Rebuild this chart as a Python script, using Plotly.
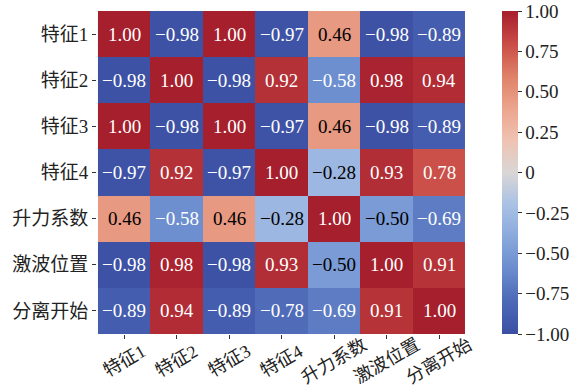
import plotly.graph_objects as go

# Feature names (rows and columns of the correlation matrix)
labels = ["特征1", "特征2", "特征3", "特征4", "升力系数", "激波位置", "分离开始"]

# Pairwise correlation coefficients, one list per row
row_f1 = [1.00, -0.98, 1.00, -0.97, 0.46, -0.98, -0.89]
row_f2 = [-0.98, 1.00, -0.98, 0.92, -0.58, 0.98, 0.94]
row_f3 = [1.00, -0.98, 1.00, -0.97, 0.46, -0.98, -0.89]
row_f4 = [-0.97, 0.92, -0.97, 1.00, -0.28, 0.93, 0.78]
row_lift = [0.46, -0.58, 0.46, -0.28, 1.00, -0.50, -0.69]
row_shock = [-0.98, 0.98, -0.98, 0.93, -0.50, 1.00, 0.91]
row_sep = [-0.89, 0.94, -0.89, -0.78, -0.69, 0.91, 1.00]
corr = [row_f1, row_f2, row_f3, row_f4, row_lift, row_shock, row_sep]

# Colorbar ticks
cbar_vals = [1.00, 0.75, 0.50, 0.25, 0, -0.25, -0.50, -0.75, -1.00]
cbar_text = ["1.00", "0.75", "0.50", "0.25", "0", "−0.25", "−0.50", "−0.75", "−1.00"]

# Muted diverging blue-grey-red scale
diverging = [
    [0.0, "#3b4fa3"], [0.1, "#4d68b7"], [0.2, "#6a8ccd"], [0.3, "#89a9dc"],
    [0.4, "#a9c1e4"], [0.5, "#d9d6d6"], [0.6, "#efc2b2"], [0.7, "#eca48c"],
    [0.8, "#df8068"], [0.9, "#c94b46"], [1.0, "#a61f2d"],
]

FONT = "Liberation Serif, Noto Sans CJK SC, serif"


def fmt(v):
    s = f"{abs(v):.2f}"
    return ("−" + s) if v < 0 else s


def text_color(v):
    return "black" if -0.55 < v < 0.6 else "white"


fig = go.Figure(
    go.Heatmap(
        z=corr,
        x=labels,
        y=labels,
        colorscale=diverging,
        zmin=-1,
        zmax=1,
        xgap=0,
        ygap=0,
        hoverinfo="skip",
        colorbar=dict(
            x=1.063,
            xanchor="left",
            xpad=0,
            y=0.5,
            yanchor="middle",
            len=1.0,
            ypad=0,
            thickness=16,
            outlinewidth=0,
            tickvals=cbar_vals,
            ticktext=cbar_text,
            ticks="outside",
            ticklen=4,
            tickcolor="#333",
            tickfont=dict(family=FONT, size=19, color="#222"),
        ),
    )
)

annotations = []
# cell values
for i, row in enumerate(corr):
    for j, v in enumerate(row):
        annotations.append(
            dict(
                x=labels[j],
                y=labels[i],
                text=fmt(v),
                showarrow=False,
                font=dict(family=FONT, size=19, color=text_color(v)),
            )
        )
# rotated column labels, centred under each tick
for name in labels:
    annotations.append(
        dict(
            x=name,
            xref="x",
            y=0,
            yref="paper",
            yanchor="middle",
            yshift=-27,
            text=name,
            textangle=-30,
            showarrow=False,
            font=dict(family=FONT, size=18, color="#222"),
        )
    )

fig.update_layout(
    width=576,
    height=389,
    margin=dict(l=97, r=98, t=11, b=55, autoexpand=False),
    paper_bgcolor="white",
    plot_bgcolor="white",
    annotations=annotations,
    font=dict(family=FONT, size=19, color="#222"),
)
fig.update_xaxes(
    showticklabels=False,
    ticks="outside",
    ticklen=4,
    tickcolor="#333",
    showgrid=False,
    zeroline=False,
    showline=False,
    automargin=False,
)
fig.update_yaxes(
    autorange="reversed",
    ticks="outside",
    ticklen=4,
    tickcolor="#333",
    tickfont=dict(family=FONT, size=19, color="#222"),
    showgrid=False,
    zeroline=False,
    showline=False,
    automargin=False,
)

fig.write_html("out.html")
